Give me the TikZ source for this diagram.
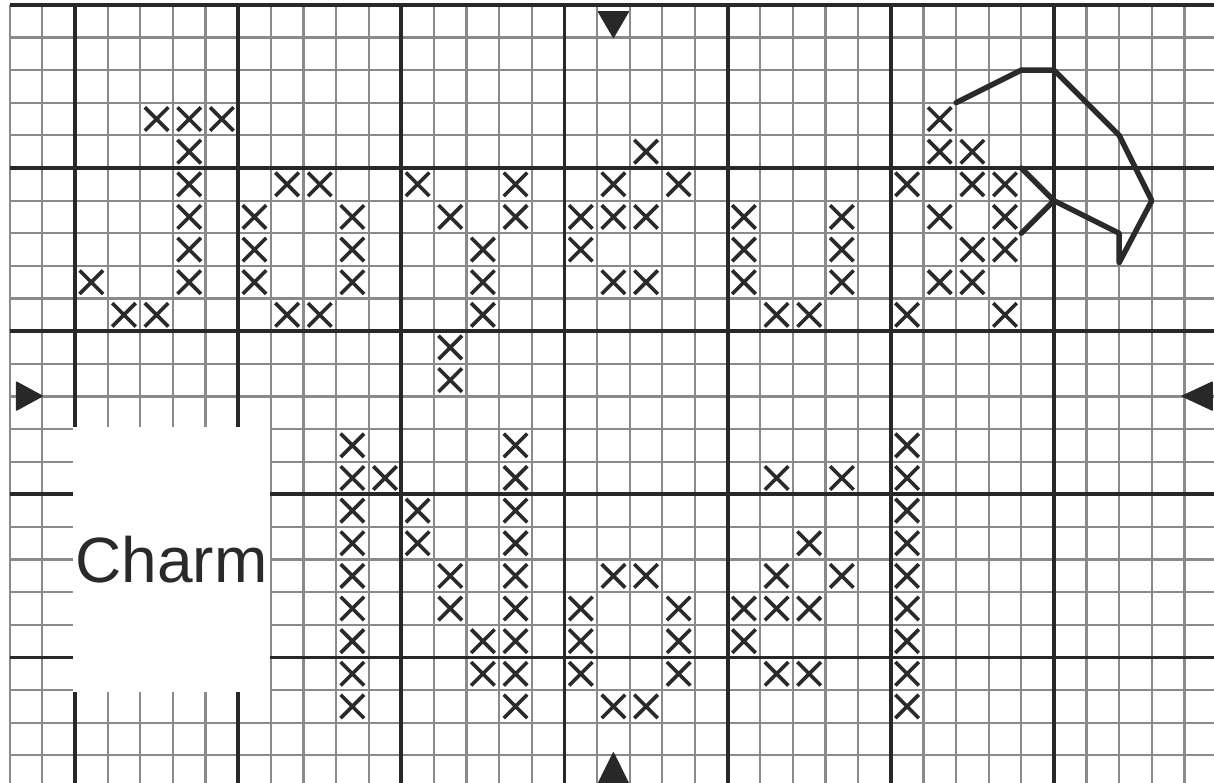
\documentclass[tikz,border=0pt]{standalone}
\usepackage{fontspec}
\setmainfont{Liberation Sans}
\definecolor{thinc}{RGB}{138,138,138}
\definecolor{thickc}{RGB}{40,40,40}
\definecolor{inkc}{RGB}{42,42,42}
\tikzset{
  thinline/.style={draw=thinc, line width=1.1pt},
  thickline/.style={draw=thickc, line width=1.9pt},
  xmark/.style={draw=inkc, line width=1.8pt},
  outline/.style={draw=inkc, line width=2.7pt, line join=round, line cap=round},
  marker/.style={fill=thickc, draw=thickc, line width=0.6pt, line join=round},
}
\begin{document}
\begin{tikzpicture}[x=16.315pt, y=-16.315pt]
\useasboundingbox (-2.2985,-5.1486) rectangle (34.906,18.817);
\clip (-2.2985,-5.1486) rectangle (34.906,18.817);
\fill[white] (-2.2985,-5.1486) rectangle (34.906,18.817);
% grid
\foreach \u in {-2,...,35} \draw[thinline] (\u,-5) -- (\u,19);
\foreach \v in {-5,...,18} \draw[thinline] (-2,\v) -- (36,\v);
\foreach \u in {0,5,...,35} \draw[thickline] (\u,-5) -- (\u,19);
\foreach \v in {-5,0,...,15} \draw[thickline] (-2,\v) -- (36,\v);
% label box
\fill[white] (-0.07,7.95) rectangle (5.965,16.06);
\node[anchor=base, inner sep=0pt, text=inkc, font=\fontsize{32pt}{38pt}\selectfont] (charm) at (2.957,12.69) {Charm};
% stitches
\foreach \c/\r in {
  2/-2,3/-2,4/-2,3/-1,3/0,3/1,3/2,3/3,0/3,1/4,2/4,
  6/0,7/0,5/1,8/1,5/2,8/2,5/3,8/3,6/4,7/4,
  10/0,13/0,11/1,13/1,12/2,12/3,12/4,11/5,11/6,
  17/-1,16/0,18/0,15/1,16/1,17/1,15/2,16/3,17/3,
  20/1,23/1,20/2,23/2,20/3,23/3,21/4,22/4,
  26/-2,26/-1,27/-1,25/0,27/0,28/0,26/1,28/1,27/2,28/2,26/3,27/3,25/4,28/4,
  8/8,8/9,8/10,8/11,8/12,8/13,8/14,8/15,8/16,
  9/9,10/10,10/11,11/12,11/13,12/14,12/15,
  13/8,13/9,13/10,13/11,13/12,13/13,13/14,13/15,13/16,
  16/12,17/12,15/13,18/13,15/14,18/14,15/15,18/15,16/16,17/16,
  21/9,23/9,22/11,21/12,23/12,20/13,21/13,22/13,20/14,21/15,22/15,
  25/8,25/9,25/10,25/11,25/12,25/13,25/14,25/15,25/16}
  \draw[xmark] (\c+0.14,\r+0.14) -- (\c+0.86,\r+0.86) (\c+0.14,\r+0.86) -- (\c+0.86,\r+0.14);
% outline
\draw[outline] (27,-2) -- (29,-3) -- (30,-3) -- (32,-1) -- (33,1) -- (32,2.9) -- (32,2) -- (30,1);
\draw[outline] (29,0) -- (30,1) -- (29,2);
% centre markers
\fill[marker] (16.04,-4.79) -- (16.96,-4.79) -- (16.5,-4.0) -- cycle;
\fill[marker] (16.04,18.85) -- (16.96,18.85) -- (16.5,17.92) -- cycle;
\fill[marker] (-1.79,6.56) -- (-1.79,7.42) -- (-1.0,6.99) -- cycle;
\fill[marker] (34.85,6.56) -- (34.85,7.42) -- (33.93,6.99) -- cycle;
\end{tikzpicture}
\end{document}
